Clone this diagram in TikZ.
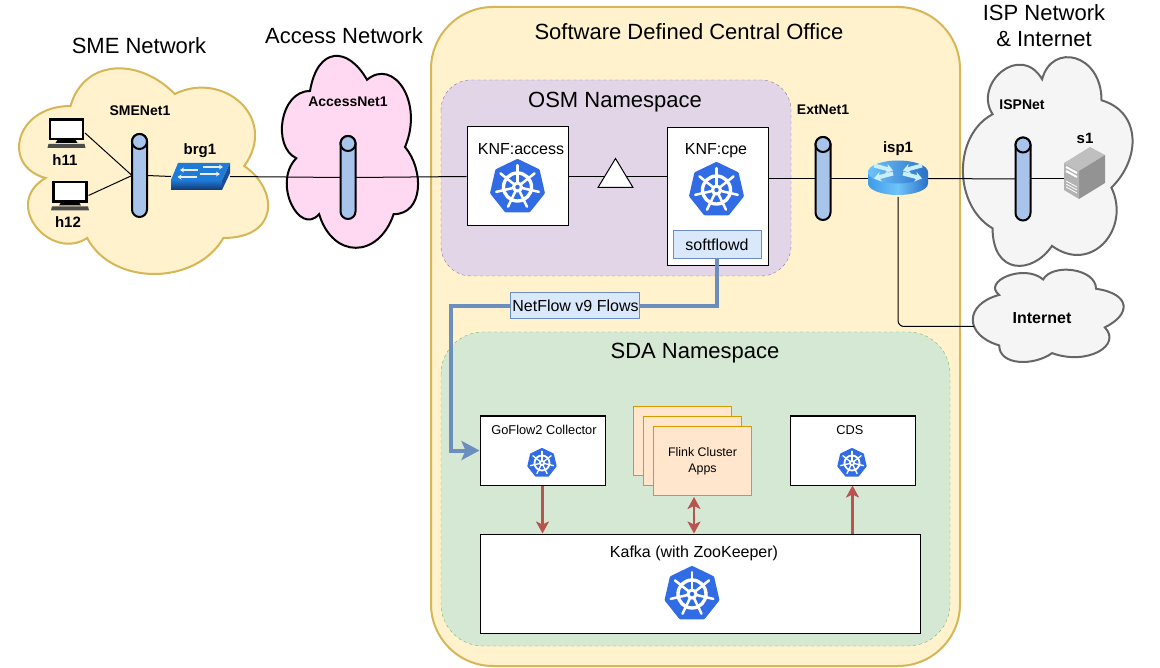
\documentclass[tikz,border=0pt]{standalone}
\usepackage{fontspec}
\setmainfont{Liberation Sans}
\usetikzlibrary{shapes.geometric, arrows.meta, positioning, calc}
\pgfdeclarelayer{back}
\pgfdeclarelayer{wires}
\pgfsetlayers{back,wires,main}

\definecolor{officefill}{HTML}{FFF2CC}
\definecolor{officeline}{HTML}{D6B656}
\definecolor{osmfill}{HTML}{E1D5E7}
\definecolor{osmline}{HTML}{9673A6}
\definecolor{sdafill}{HTML}{D5E8D4}
\definecolor{sdaline}{HTML}{82B366}
\definecolor{flowfill}{HTML}{DAE8FC}
\definecolor{flowline}{HTML}{6C8EBF}
\definecolor{barfill}{HTML}{A9C4EB}
\definecolor{flinkfill}{HTML}{FFE6CC}
\definecolor{flinkline}{HTML}{D79B00}
\definecolor{kafkaarrow}{HTML}{B85450}
\definecolor{kubeblue}{HTML}{326CE5}
\definecolor{accessfill}{HTML}{FFD9F2}
\definecolor{ispfill}{HTML}{F5F5F5}
\definecolor{ispline}{HTML}{666666}
\definecolor{switchtop}{HTML}{1F7BD8}
\definecolor{switchside}{HTML}{1A4E9C}
\definecolor{routerlight}{HTML}{6FC4FA}
\definecolor{routermid}{HTML}{3F9BE8}
\definecolor{routerdark}{HTML}{2A70C8}

\newcommand{\cloudblob}[1]{\draw[line width=2pt, #1] (0.25,0.25)
  .. controls (0.05,0.25) and (0,0.5) .. (0.16,0.55)
  .. controls (0,0.66) and (0.18,0.9) .. (0.31,0.8)
  .. controls (0.4,1) and (0.7,1) .. (0.8,0.8)
  .. controls (1,0.8) and (1,0.6) .. (0.875,0.5)
  .. controls (1,0.3) and (0.8,0.1) .. (0.625,0.2)
  .. controls (0.5,0.05) and (0.3,0.05) .. (0.25,0.25) -- cycle;}

\tikzset{
  txt/.style={font=\fontsize{#1}{#1}\selectfont, inner sep=0pt, align=center},
  boldtxt/.style={font=\fontsize{#1}{#1}\selectfont\bfseries, inner sep=0pt, align=center},
  whitebox/.style={draw, fill=white, line width=1pt, inner sep=0pt, align=center},
  iconspot/.style={inner sep=0pt, outer sep=0pt},
  netbar/.style={draw, fill=barfill, line width=2pt, rounded corners=7.5pt, inner sep=0pt, outer sep=0pt, minimum width=15pt, minimum height=83pt},
  flinkbox/.style={draw=flinkline, fill=flinkfill, line width=1.2pt, inner sep=0pt, minimum width=98pt, minimum height=69pt, align=center},
  wire/.style={line width=1pt, draw=black},
  redtip/.tip={Stealth[inset=3pt,length=12pt,width=13pt]},
  kafkalink/.style={line width=2.2pt, draw=kafkaarrow, -{redtip}},
  pics/kube/.style={code={
    \fill[kubeblue, draw=kubeblue, line join=round, line width=#1*0.14pt] (270:{#1*0.93})
      \foreach \a in {1,...,6} { -- ({270+\a*360/7}:{#1*0.93}) } -- cycle;
    \draw[white, line width=#1*0.12pt] (0,0) circle ({#1*0.5});
    \foreach \a in {0,...,6} {
      \draw[white, line width=#1*0.09pt, line cap=round] ({270+\a*360/7}:{#1*0.15}) -- ({270+\a*360/7}:{#1*0.78});
    }
    \fill[white] (0,0) circle ({#1*0.2});
    \fill[kubeblue] (0,0) circle ({#1*0.08});
  }},
  pics/hostpc/.style={code={
    \draw[line width=2.5pt, fill=white] (-16.5,-13.5) rectangle (16.5,6);
    \fill[black] (-9,7) -- (9,7) -- (11,10) -- (-11,10) -- cycle;
    \fill[black!70] (-18,11) -- (18,11) -- (19,15) -- (-19,15) -- cycle;
  }},
  pics/switchbox/.style={code={
    \shade[top color=switchtop, bottom color=switchside!70!black] (-29.5,3.5) rectangle (21.5,13.5);
    \fill[switchside] (29.5,-13.5) -- (29.5,-3.5) -- (21.5,13.5) -- (21.5,3.5) -- cycle;
    \fill[switchtop] (-22.5,-13.5) -- (29.5,-13.5) -- (21.5,3.5) -- (-29.5,3.5) -- cycle;
    \foreach \y/\a/\b in {-9.5/2.5/22.5, -6.5/-2.5/-20.5, -2.5/-0.5/19.5, 0.5/-3.5/-23} {
      \draw[white!85!gray, line width=1.8pt, -{Stealth[length=4pt,width=5pt]}] (\a,\y) -- (\b,\y);
    }
  }},
  pics/routerbox/.style={code={
    \shade[left color=routermid, right color=routerdark, middle color=routerlight] (-30,-6.5) -- (-30,5) arc[start angle=180, end angle=360, x radius=30, y radius=-11.5] -- (30,-6.5) -- cycle;
    \shade[left color=routerlight, right color=routerdark] (0,-6.5) ellipse (30 and 11.5);
    \foreach \a/\b in {-24/-5, 24/5} {
      \draw[white!80!cyan, line width=4pt, -{Stealth[length=7pt,width=10pt]}] (\a,-13) -- (\b,-8);
      \draw[white!80!cyan, line width=4pt, -{Stealth[length=7pt,width=10pt]}] (\b,-5) -- (\a,0);
    }
  }},
  pics/serverbox/.style={code={
    \fill[gray!50] (-21,-10) -- (5,-26) -- (20,-18) -- (-6,-2) -- cycle;
    \fill[gray!85] (-6,-2) -- (20,-18) -- (20,10) -- (-6,26) -- cycle;
    \fill[gray!60] (-21,-10) -- (-6,-2) -- (-6,26) -- (-21,17) -- cycle;
    \foreach \y in {-5,-1} {
      \draw[white, line width=2pt] (-19,\y-1) -- (-8,\y+5);
    }
    \foreach \y in {9,12,15} {
      \draw[white, line width=0.8pt] (-19,\y-1) -- (-8,\y+5);
    }
  }}
}

\begin{document}
\begin{tikzpicture}[x=1pt, y=-1pt]
\useasboundingbox (0,0) rectangle (1160,668);

% Clouds and namespaces
\begin{pgfonlayer}{back}
\cloudblob{draw=officeline, fill=officefill, shift={(1,46)}, x=278pt, y=-240pt}
\cloudblob{draw=black, fill=accessfill, shift={(272,35)}, x=152pt, y=-224pt}
\draw[draw=officeline, fill=officefill, line width=2pt, rounded corners=62pt] (431,7) rectangle (960,666);
\draw[draw=osmline, fill=osmfill, dashed, rounded corners=30pt] (441,80) rectangle (791,276);
\draw[draw=sdaline, fill=sdafill, dashed, rounded corners=42pt] (441,332) rectangle (950,646);
\cloudblob{draw=ispline, fill=ispfill, shift={(1151,42)}, x={(0pt,-233pt)}, y={(-198pt,0pt)}}
\cloudblob{draw=ispline, fill=ispfill, shift={(1140,263)}, x={(0pt,-103pt)}, y={(-176pt,0pt)}}
\end{pgfonlayer}

% Titles
\node[txt=22] (smetitle) at (139,46) {SME Network};
\node[txt=22] (accesstitle) at (344,36) {Access Network};
\node[txt=22] (officetitle) at (689,32) {Software Defined Central Office};
\node[txt=22] (isptitle) at (1044,26) {ISP Network\\[4pt]\& Internet};
\node[txt=22] (osmtitle) at (615,102.5) {OSM Namespace};
\node[txt=22] (sdatitle) at (695,353) {SDA Namespace};

% SME network
\node[iconspot, minimum width=37pt, minimum height=30pt] (h11) at (66.5,133) {};
\node[iconspot, minimum width=37pt, minimum height=30pt] (h12) at (70,195.5) {};
\pic at (h11) {hostpc};
\pic at (h12) {hostpc};
\node[boldtxt=15] (h11label) at (65,160) {h11};
\node[boldtxt=15] (h12label) at (68,222) {h12};
\node[boldtxt=14] (smelabel) at (140,111) {SMENet1};
\node[netbar] (smenet) at (139.5,175.5) {};
\node[iconspot, minimum width=59pt, minimum height=27pt] (brg1) at (200.5,176.5) {};
\pic at (brg1) {switchbox};
\node[boldtxt=15] (brglabel) at (200,151) {brg1};

% Access network
\node[boldtxt=14] (accesslabel) at (348,102) {AccessNet1};
\node[netbar] (accessnet) at (348,177.5) {};

% OSM namespace
\node[whitebox, minimum width=101pt, minimum height=99pt] (knfaccess) at (517.5,176.5) {};
\node[txt=16] (knfaccesslabel) at (521,149) {KNF:access};
\pic at (517.5,187) {kube=28};
\node[isosceles triangle, isosceles triangle stretches, shape border rotate=90, draw, fill=white, line width=1pt, inner sep=0pt, minimum width=35pt, minimum height=29pt, anchor=lower side] (relay) at (615.5,188) {};
\node[whitebox, minimum width=101pt, minimum height=138pt] (knfcpe) at (717.5,197) {};
\node[txt=16] (knfcpelabel) at (716,150.5) {KNF:cpe};
\pic at (716.5,190) {kube=28};
\node[draw=flowline, fill=flowfill, line width=1pt, inner sep=0pt, minimum width=88pt, minimum height=28pt, txt=16] (softflowd) at (717,245) {softflowd};

% External side
\node[boldtxt=14] (extlabel) at (823,110) {ExtNet1};
\node[netbar] (extnet) at (823,178.5) {};
\node[iconspot, minimum width=60pt, minimum height=37pt] (isp1) at (898,178.5) {};
\pic at (isp1) {routerbox};
\node[boldtxt=15] (isplabel) at (898,149) {isp1};
\node[boldtxt=14] (ispnetlabel) at (1022,105) {ISPNet};
\node[netbar] (ispnet) at (1023,179) {};
\node[iconspot, minimum width=42pt, minimum height=52pt] (s1) at (1085,173) {};
\pic at (s1) {serverbox};
\node[boldtxt=15] (s1label) at (1085,138) {s1};
\node[boldtxt=16] (internet) at (1042,318) {Internet};
\coordinate (internetedge) at (974,326.5);

% Caps of the network bars
\foreach \netname in {smenet, accessnet, extnet, ispnet} {
  \draw[fill=barfill, line width=2pt] ($(\netname.north)+(0,7.5)$) circle (7.5);
}

% SDA namespace
\node[whitebox, minimum width=125pt, minimum height=69pt] (goflow) at (542.5,450.5) {};
\node[txt=12.8] (goflowlabel) at (544,430) {GoFlow2 Collector};
\pic at (542,463) {kube=15};
\node[flinkbox] (flink1) at (682.5,441) {};
\node[flinkbox] (flink2) at (692.5,451) {};
\node[flinkbox, txt=12.4] (flink3) at (702.5,461) {Flink Cluster\\[4pt]Apps};
\node[whitebox, minimum width=125pt, minimum height=69pt] (cds) at (852.5,450.5) {};
\node[txt=12.8] (cdslabel) at (850,430) {CDS};
\pic at (852,463) {kube=15};
\node[whitebox, minimum width=440pt, minimum height=99pt] (kafka) at (700,583.5) {};
\node[txt=16] (kafkalabel) at (694,553.5) {Kafka (with ZooKeeper)};
\pic at (692,594) {kube=28};

% Connections
\begin{pgfonlayer}{wires}
\draw[wire] (h11.east) -- (smenet.west);
\draw[wire] (h12.east) -- (smenet.west);
\draw[wire] (smenet.east) -- (brg1.west);
\draw[wire] (brg1.east) -- (accessnet.west);
\draw[wire] (accessnet.east) -- (knfaccess.west);
\draw[wire] (knfaccess.east) -- (knfaccess.east -| relay.lower side);
\draw[wire] (knfaccess.east -| relay.lower side) -- (knfaccess.east -| knfcpe.west);
\draw[wire] (extnet.west -| knfcpe.east) -- (extnet.west);
\draw[wire] (extnet.east) -- (isp1.west);
\draw[wire] (isp1.east) -- (ispnet.west);
\draw[wire] (ispnet.east) -- (ispnet.east -| s1.west);
\draw[wire, rounded corners=6pt] (isp1.south) |- (internetedge);
\end{pgfonlayer}

% NetFlow path
\coordinate (flowturn1) at (717,306);
\coordinate (flowturn2) at (451,306);
\draw[draw=flowline, line width=4pt, -{Stealth[inset=4pt,length=18pt,width=19pt]}] (softflowd.south) -- (flowturn1) -- node[draw=flowline, fill=flowfill, line width=1pt, inner sep=0pt, minimum width=129pt, minimum height=26pt, txt=16, pos=0.532] (netflow) {NetFlow v9 Flows} (flowturn2) |- (goflow.west);

% Kafka arrows
\coordinate (flinkport) at (694,497);
\draw[kafkalink] (goflow.south) -- (goflow.south |- kafka.north);
\draw[kafkalink, {redtip}-{redtip}] (flinkport) -- (flinkport |- kafka.north);
\draw[kafkalink] (kafka.north -| cds.south) -- (cds.south);
\end{tikzpicture}
\end{document}
